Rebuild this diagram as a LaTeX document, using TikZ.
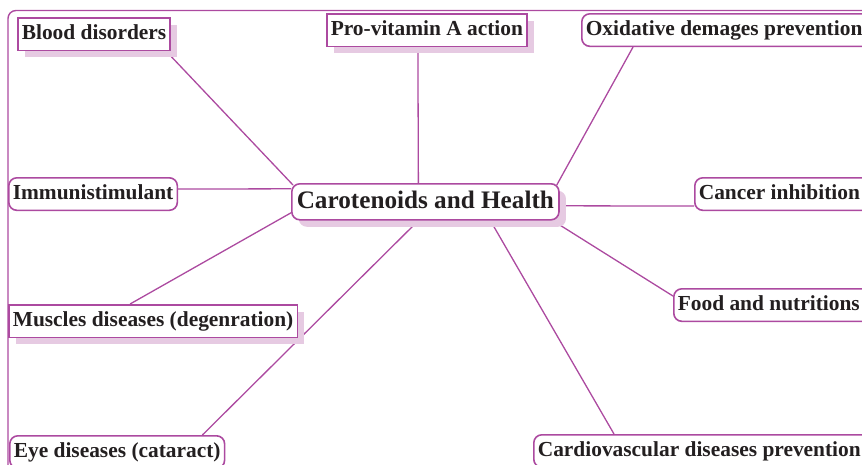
\documentclass[tikz,border=0pt]{standalone}
\usepackage{fontspec}
\setmainfont{Liberation Serif}
\usetikzlibrary{shadows,backgrounds}
\definecolor{plum}{RGB}{172,74,160}
\definecolor{lilac}{RGB}{230,202,226}
\definecolor{ink}{RGB}{35,31,32}
\newcommand\runsoff[1]{\makebox[340pt][l]{#1}}
\begin{document}
\begin{tikzpicture}[x=1pt,y=-1pt,
  box/.style={draw=plum,line width=1.6pt,fill=white,text=ink,anchor=north west,
    font=\fontsize{21.4}{24}\selectfont\bfseries,inner xsep=4pt,inner ysep=4pt,
    text height=18pt,text depth=6.5pt},
  roundbox/.style={box,rounded corners=8pt},
  shadowbox/.style={box,drop shadow={shadow xshift=7pt,shadow yshift=-7pt,fill=lilac,opacity=1}},
  hub/.style={shadowbox,rounded corners=8pt,font=\fontsize{25.2}{28}\selectfont\bfseries,
    inner xsep=5pt,text height=20.3pt,text depth=7.7pt},
  link/.style={draw=plum,line width=1.3pt}]
\useasboundingbox (0,0) rectangle (862,464);
\clip (0,0) rectangle (862,464);
\draw[plum,line width=1.4pt,rounded corners=8pt] (8,480) |- (880,10.5);
\node[shadowbox] (blood) at (17,17) {Blood disorders};
\node[shadowbox] (pro) at (326,13) {Pro-vitamin A action};
\node[roundbox] (ox) at (581,13) {\runsoff{Oxidative demages prevention}};
\node[roundbox] (imm) at (8,177) {Immunistimulant};
\node[hub] (ctr) at (291,183) {Carotenoids and Health};
\node[roundbox] (canc) at (694,177) {\runsoff{Cancer inhibition}};
\node[shadowbox] (musc) at (8,304) {Muscles diseases (degenration)};
\node[roundbox] (food) at (673,288) {\runsoff{Food and nutritions}};
\node[roundbox] (eye) at (9,435) {Eye diseases (cataract)};
\node[roundbox] (cardio) at (533,434) {\runsoff{Cardiovascular diseases prevention}};
\begin{scope}[on background layer]
\draw[link] ([xshift=-5pt]blood.south east) -- ([xshift=2pt,yshift=-2pt]ctr.north west);
\draw[link] ([xshift=-9pt]pro.south) -- ([xshift=-7pt]ctr.north);
\draw[link] ([xshift=52pt]ox.south west) -- ([xshift=-3pt,yshift=-2pt]ctr.north east);
\draw[link] ([yshift=5pt]imm.east) -- ([yshift=13pt]ctr.west);
\draw[link] ([yshift=-4pt]ctr.east) -- ([yshift=-12pt]canc.west);
\draw[link] ([xshift=-7pt]ctr.south east) -- ([yshift=9pt]food.west);
\draw[link] ([xshift=-23pt]musc.north) -- ([yshift=-11pt]ctr.west);
\draw[link] ([xshift=-23pt]eye.north east) -- ([xshift=-7pt]ctr.south);
\draw[link] ([xshift=65pt]ctr.south) -- ([xshift=81pt]cardio.north west);
\end{scope}
\end{tikzpicture}
\end{document}
